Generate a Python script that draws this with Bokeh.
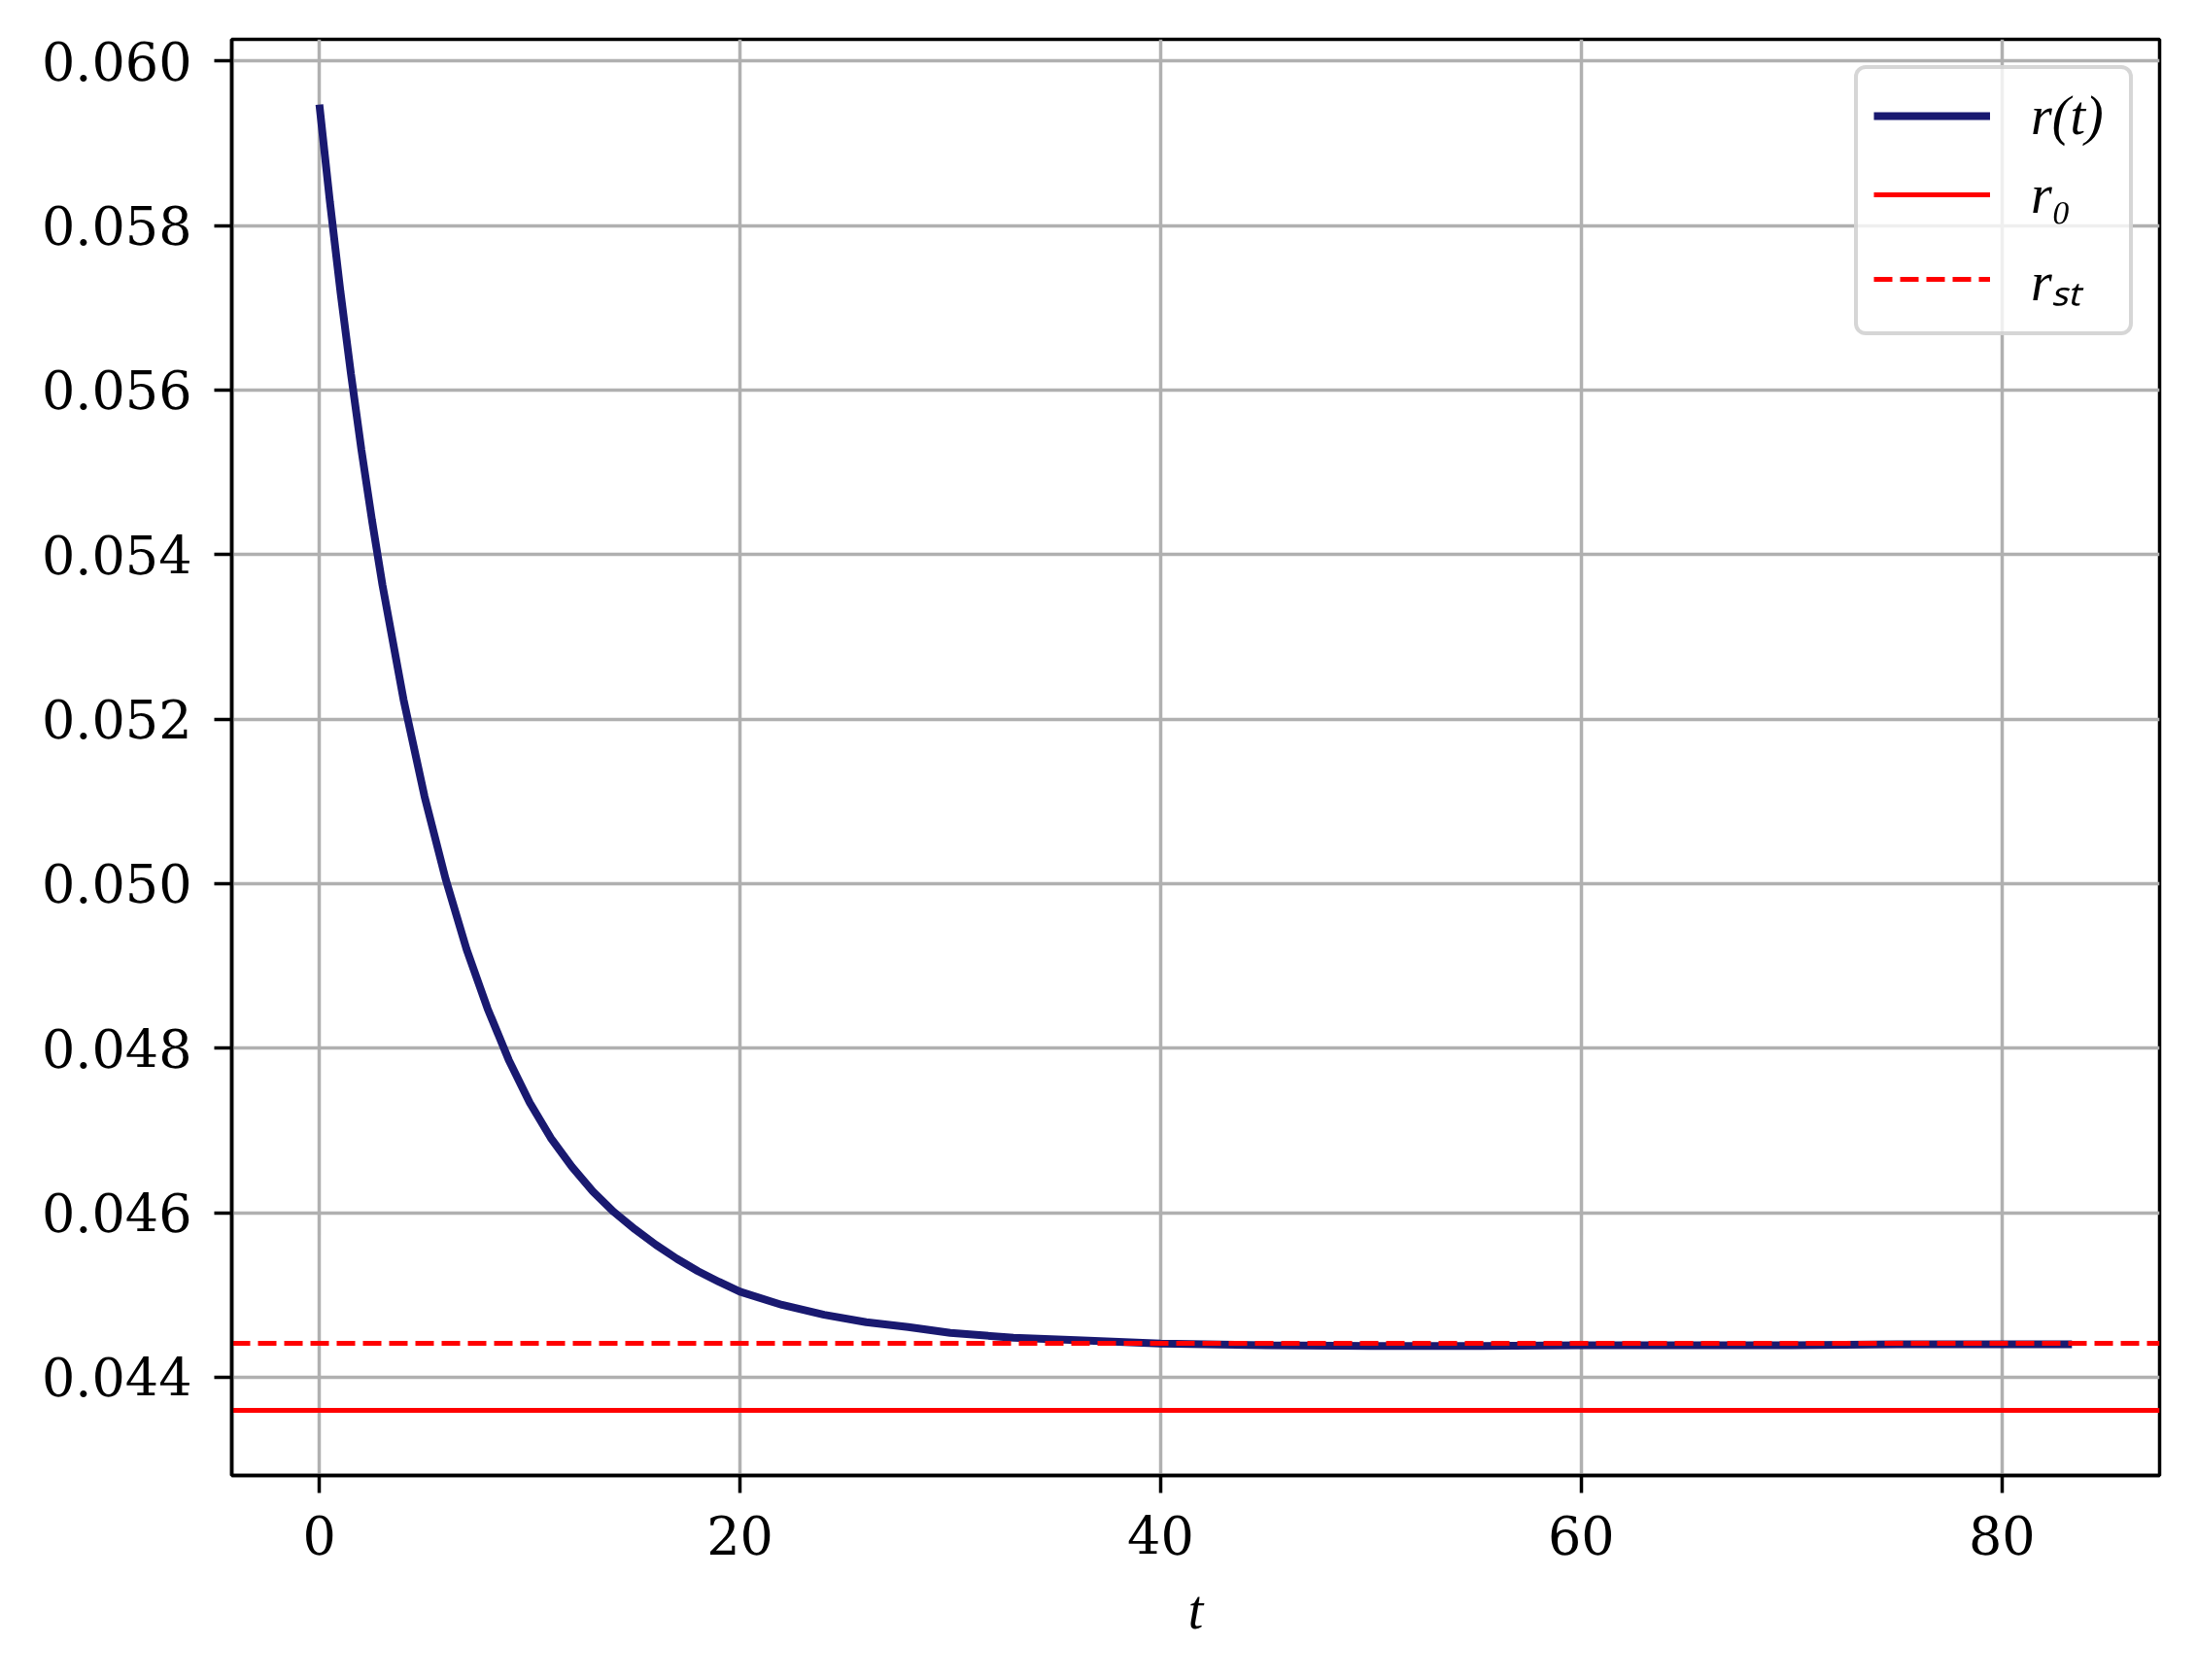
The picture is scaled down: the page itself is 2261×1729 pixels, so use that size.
from bokeh.plotting import figure
from bokeh.models import Range1d, FixedTicker, Legend, LegendItem
from bokeh.embed import file_html
from bokeh.resources import INLINE

# ---- data ----
T = [0, 0.5, 1, 1.5, 2, 2.5, 3, 4, 5, 6, 7, 8, 9, 10, 11, 12, 13, 14, 15, 16, 17,
     18, 19, 20, 22, 24, 26, 28, 30, 33, 36, 40, 45, 50, 55, 60, 65, 70, 75, 80, 83.33]
R = [0.05947, 0.05829, 0.05720, 0.05620, 0.05527, 0.05442, 0.05363, 0.05224, 0.05106,
     0.05006, 0.04920, 0.04848, 0.04786, 0.04734, 0.04691, 0.04656, 0.04626, 0.04601,
     0.04580, 0.04561, 0.04544, 0.04529, 0.04516, 0.04504, 0.04488, 0.04476, 0.04467,
     0.04461, 0.04454, 0.04448, 0.04445, 0.04441, 0.04439, 0.04438, 0.04438, 0.04439,
     0.04439, 0.04439, 0.04440, 0.04440, 0.04440]
R0 = 0.0436
R_ST = 0.04441

X_TICKS = [0, 20, 40, 60, 80]
X_TICK_LABELS = ["0", "20", "40", "60", "80"]
Y_TICKS = [0.044, 0.046, 0.048, 0.050, 0.052, 0.054, 0.056, 0.058, 0.060]
Y_TICK_LABELS = ["0.044", "0.046", "0.048", "0.050", "0.052", "0.054", "0.056", "0.058", "0.060"]
SERIES_LABELS = ["r(t)", "r\u2080", "r\u209b\u209c"]
X_LABEL = "t"

# ---- ranges with 5% margins like the original ----
xs = T[-1] - T[0]
x_range = Range1d(T[0] - 0.05 * xs, T[-1] + 0.05 * xs)
ylo = min(min(R), R0, R_ST)
yhi = max(max(R), R0, R_ST)
ys = yhi - ylo
y_range = Range1d(ylo - 0.05 * ys, yhi + 0.05 * ys)

W, H = 2256, 1724
p = figure(width=W, height=H, x_range=x_range, y_range=y_range,
           output_backend="svg", toolbar_location=None, tools="",
           min_border_left=238, min_border_right=34,
           min_border_top=40, min_border_bottom=206)

p.background_fill_color = "white"
p.border_fill_color = "white"
p.outline_line_color = "black"
p.outline_line_width = 3.5

TICK_FONT = "DejaVu Serif"
MATH_FONT = "Liberation Serif"
FS = "54px"

for ax in (p.xaxis[0], p.yaxis[0]):
    ax.axis_line_color = "black"
    ax.axis_line_width = 3.5
    ax.major_tick_line_color = "black"
    ax.major_tick_line_width = 3.5
    ax.major_tick_out = 18
    ax.major_tick_in = 0
    ax.minor_tick_line_color = None
    ax.major_label_text_font = TICK_FONT
    ax.major_label_text_font_size = FS
    ax.major_label_text_color = "black"

p.xaxis[0].ticker = FixedTicker(ticks=X_TICKS)
p.xaxis[0].major_label_overrides = {v: l for v, l in zip(X_TICKS, X_TICK_LABELS)}
p.xaxis[0].major_label_standoff = 23
p.xaxis[0].axis_label = X_LABEL
p.xaxis[0].axis_label_text_font = MATH_FONT
p.xaxis[0].axis_label_text_font_style = "italic"
p.xaxis[0].axis_label_text_font_size = "56px"
p.xaxis[0].axis_label_text_color = "black"
p.xaxis[0].axis_label_standoff = 23

p.yaxis[0].ticker = FixedTicker(ticks=Y_TICKS)
p.yaxis[0].major_label_overrides = {v: l for v, l in zip(Y_TICKS, Y_TICK_LABELS)}
p.yaxis[0].major_label_standoff = 23

for g in (p.xgrid[0], p.ygrid[0]):
    g.grid_line_color = "#b0b0b0"
    g.grid_line_width = 3.5

# ---- series ----
r_line = p.line(T, R, line_color="#191970", line_width=8)
r0_span = p.hspan(y=[R0], line_color="#ff0000", line_width=5)
rst_span = p.hspan(y=[R_ST], line_color="#ff0000", line_width=5, line_dash="19 8")

legend = Legend(items=[
    LegendItem(label=SERIES_LABELS[0], renderers=[r_line]),
    LegendItem(label=SERIES_LABELS[1], renderers=[r0_span]),
    LegendItem(label=SERIES_LABELS[2], renderers=[rst_span]),
], location="top_right")
legend.label_text_font = MATH_FONT
legend.label_text_font_style = "italic"
legend.label_text_font_size = "56px"
legend.label_text_color = "black"
legend.glyph_width = 120
legend.glyph_height = 56
legend.label_height = 56
legend.label_width = 85
legend.label_standoff = 42
legend.spacing = 17
legend.padding = 16
legend.margin = 27
legend.border_line_color = "#cccccc"
legend.border_line_width = 4
legend.border_line_alpha = 0.8
legend.background_fill_color = "white"
legend.background_fill_alpha = 0.8
if "border_radius" in Legend.properties():
    legend.border_radius = 12
p.add_layout(legend, "center")

open("out.html", "w").write(file_html(p, INLINE))
